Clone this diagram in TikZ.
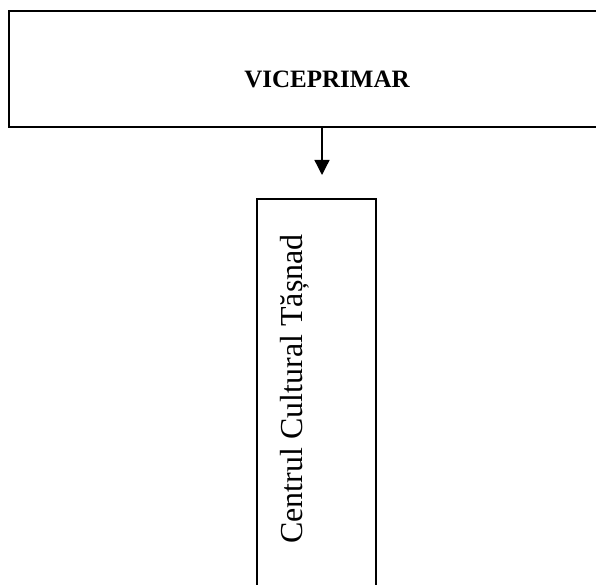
\documentclass[tikz,border=0pt]{standalone}
\usepackage{fontspec}
\setmainfont{Liberation Serif}
\usetikzlibrary{arrows.meta}
\tikzset{
	cutie/.style={draw, rectangle, line width=1.3pt, inner sep=0pt},
	sageata/.style={line width=1.3pt, -{Triangle[width=15pt,length=15pt]}}
}
\begin{document}
\begin{tikzpicture}[x=1pt, y=-1pt]
\useasboundingbox (0,0) rectangle (596,585);
\clip (0,0) rectangle (596,585);

\node [cutie, minimum width=636pt, minimum height=116pt, text height=38pt, text depth=0pt, font=\fontsize{25}{28}\selectfont\bfseries] (viceprimar) at (327,69) {VICEPRIMAR};

\node [cutie, minimum width=119pt, minimum height=401pt] (centru) at (316.5,399.5) {};
\node [rotate=90, inner sep=0pt, font=\fontsize{32}{36}\selectfont] (centrutxt) at (295,389) {Centrul Cultural Tășnad};

\coordinate (varf) at (322,175);
\draw [sageata] (viceprimar.south -| varf) -- (varf);
\end{tikzpicture}
\end{document}
